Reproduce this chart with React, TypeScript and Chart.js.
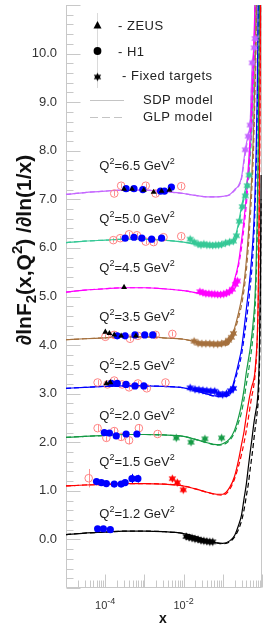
import React, { useEffect, useRef } from "react";
import { Chart, registerables } from "chart.js";

Chart.register(...registerables);

const FONT = '"Liberation Sans", Arial, Helvetica, sans-serif';

// ---------- model curves (x grid shared by all bins) ----------
const CURVE_X = [1e-5, 3e-5, 1e-4, 3e-4, 1e-3, 3e-3, 1e-2, 2e-2, 4e-2, 7e-2, 0.1, 0.15, 0.2, 0.25, 0.3, 0.35, 0.4, 0.45, 0.5, 0.55, 0.6, 0.65, 0.7, 0.75, 0.8, 0.85, 0.9, 0.95];

const SDP_12 = [0.10, 0.13, 0.15, 0.17, 0.17, 0.16, 0.12, 0.06, -0.02, -0.07, -0.08, -0.03, 0.08, 0.28, 0.50, 0.85, 1.15, 1.50, 1.80, 2.05, 2.30, 2.50, 2.65, 2.80, 3.10, 3.70, 5.00, 7.50];
const GLP_12 = [0.10, 0.13, 0.15, 0.17, 0.17, 0.16, 0.12, 0.06, -0.02, -0.07, -0.09, -0.05, 0.05, 0.20, 0.38, 0.62, 0.90, 1.15, 1.45, 1.70, 1.95, 2.20, 2.40, 2.60, 2.85, 3.40, 4.50, 7.00];
const SDP_15 = [1.10, 1.12, 1.13, 1.15, 1.15, 1.14, 1.10, 1.04, 0.97, 0.93, 0.93, 1.07, 1.30, 1.62, 1.95, 2.23, 2.55, 2.80, 3.00, 3.15, 3.25, 3.40, 3.70, 4.10, 5.00, 7.00, 10.0, 14.0];
const GLP_15 = [1.10, 1.12, 1.13, 1.15, 1.15, 1.14, 1.10, 1.04, 0.97, 0.92, 0.91, 1.03, 1.25, 1.50, 1.75, 2.00, 2.25, 2.50, 2.75, 2.95, 3.10, 3.30, 3.60, 4.00, 4.80, 6.50, 9.50, 13.0];
const SDP_20 = [2.10, 2.12, 2.14, 2.16, 2.16, 2.15, 2.12, 2.06, 1.99, 1.95, 1.97, 2.07, 2.25, 2.50, 2.78, 3.10, 3.45, 3.70, 3.93, 4.20, 4.50, 4.85, 5.50, 6.50, 8.00, 10.5, 14.0, 18.0];
const GLP_20 = [2.10, 2.12, 2.14, 2.16, 2.16, 2.15, 2.12, 2.06, 1.99, 1.94, 1.95, 2.04, 2.20, 2.40, 2.62, 2.90, 3.20, 3.45, 3.70, 3.95, 4.25, 4.60, 5.20, 6.10, 7.50, 10.0, 13.5, 17.0];
const SDP_25 = [3.11, 3.13, 3.15, 3.16, 3.16, 3.15, 3.12, 3.06, 2.99, 2.95, 2.96, 3.00, 3.30, 3.62, 3.92, 4.35, 4.75, 5.10, 5.45, 5.85, 6.30, 6.90, 7.80, 9.00, 11.0, 14.0, 17.0, 20.0];
const GLP_25 = [3.11, 3.13, 3.15, 3.16, 3.16, 3.15, 3.12, 3.06, 2.99, 2.94, 2.94, 2.98, 3.25, 3.52, 3.80, 4.15, 4.50, 4.85, 5.20, 5.55, 6.00, 6.60, 7.40, 8.60, 10.5, 13.5, 16.5, 19.5];
const SDP_35 = [4.11, 4.13, 4.15, 4.17, 4.17, 4.15, 4.12, 4.07, 4.02, 4.00, 4.01, 4.06, 4.35, 4.65, 4.95, 5.30, 5.75, 6.30, 6.90, 7.50, 8.30, 9.30, 10.5, 12.0, 14.0, 16.0, 18.0, 20.0];
const GLP_35 = [4.11, 4.13, 4.15, 4.17, 4.17, 4.15, 4.12, 4.07, 4.02, 3.99, 3.99, 4.04, 4.30, 4.55, 4.82, 5.15, 5.55, 6.05, 6.60, 7.20, 7.90, 8.90, 10.0, 11.5, 13.5, 15.5, 17.5, 19.5];
const SDP_45 = [5.09, 5.13, 5.16, 5.18, 5.18, 5.16, 5.12, 5.08, 5.04, 5.03, 5.04, 5.10, 5.35, 5.68, 6.15, 6.60, 7.10, 7.70, 8.30, 9.00, 9.80, 10.8, 12.0, 13.5, 15.0, 17.0, 19.0, 21.0];
const GLP_45 = [5.09, 5.13, 5.16, 5.18, 5.18, 5.16, 5.12, 5.08, 5.04, 5.03, 5.03, 5.08, 5.32, 5.62, 6.00, 6.45, 6.90, 7.45, 8.05, 8.70, 9.50, 10.5, 11.7, 13.0, 14.5, 16.5, 18.5, 20.5];
const SDP_50 = [6.11, 6.14, 6.16, 6.18, 6.18, 6.16, 6.12, 6.08, 6.05, 6.06, 6.08, 6.10, 6.18, 6.50, 6.85, 7.10, 7.30, 7.55, 8.00, 8.60, 9.40, 10.6, 12.0, 13.5, 15.0, 17.0, 19.0, 21.0];
const GLP_50 = [6.11, 6.14, 6.16, 6.18, 6.18, 6.16, 6.12, 6.08, 6.05, 6.05, 6.07, 6.09, 6.16, 6.45, 6.78, 7.03, 7.22, 7.45, 7.85, 8.40, 9.20, 10.3, 11.7, 13.0, 14.5, 16.5, 18.5, 20.5];
const SDP_65 = [7.10, 7.14, 7.17, 7.19, 7.19, 7.16, 7.12, 7.08, 7.05, 7.05, 7.06, 7.10, 7.20, 7.28, 7.45, 7.85, 8.15, 8.35, 8.60, 9.60, 10.0, 10.25, 10.7, 11.3, 12.5, 14.0, 16.0, 18.0];
const GLP_65 = [7.10, 7.14, 7.17, 7.19, 7.19, 7.16, 7.12, 7.08, 7.05, 7.05, 7.06, 7.09, 7.18, 7.26, 7.42, 7.78, 8.08, 8.30, 8.55, 9.45, 9.90, 10.15, 10.6, 11.2, 12.3, 13.8, 15.8, 17.8];

// ---------- measurements [x, value, error] ----------
const ZEUS_25 = [[1.07e-4, 3.21], [1.35e-4, 3.23]];
const ZEUS_35 = [[1.01e-4, 4.27], [1.28e-4, 4.24], [1.70e-4, 4.21], [2.55e-4, 4.19], [6.08e-4, 4.19]];
const ZEUS_45 = [[3.03e-4, 5.19]];
const ZEUS_65 = [[3.03e-4, 7.21], [4.82e-4, 7.21], [9.66e-4, 7.19], [1.72e-3, 7.15], [2.74e-3, 7.17], [4.35e-3, 7.19]];

const H1_12 = [[6.4e-5, 0.22], [9.0e-5, 0.22], [1.35e-4, 0.20]];
const H1_15 = [[6.0e-5, 1.19, 0.03], [8.0e-5, 1.17, 0.03], [1.07e-4, 1.15, 0.03], [1.70e-4, 1.14, 0.03], [2.55e-4, 1.14, 0.04], [3.22e-4, 1.17, 0.06], [4.82e-4, 1.25, 0.1], [6.82e-4, 1.25, 0.08]];
const H1_20 = [[9.5e-5, 2.20], [1.28e-4, 2.19], [1.91e-4, 2.13], [3.41e-4, 2.17], [6.44e-4, 2.17]];
const H1_25 = [[1.43e-4, 3.21], [2.03e-4, 3.21], [3.41e-4, 3.19], [5.74e-4, 3.16], [9.66e-4, 3.16]];
const H1_35 = [[2.03e-4, 4.19], [3.22e-4, 4.19], [5.74e-4, 4.21], [1.02e-3, 4.21], [1.63e-3, 4.21]];
const H1_50 = [[3.22e-4, 6.20], [5.42e-4, 6.22], [8.6e-4, 6.20], [1.53e-3, 6.18], [2.74e-3, 6.20]];
const H1_65 = [[3.41e-4, 7.22], [5.42e-4, 7.22], [9.1e-4, 7.20], [2.58e-3, 7.17], [3.26e-3, 7.17], [4.88e-3, 7.25]];

const OPEN_15 = [[3.79e-5, 1.26, 0.19]];
const OPEN_20 = [[6.4e-5, 2.29, 0.07], [1.07e-4, 2.09, 0.07], [1.70e-4, 2.23, 0.07], [2.55e-4, 2.11, 0.07], [4.06e-4, 2.04, 0.08], [7.23e-4, 2.29, 0.07], [2.17e-3, 2.17, 0.05]];
const OPEN_25 = [[6.4e-5, 3.23, 0.05], [1.14e-4, 3.19, 0.05], [1.70e-4, 3.27, 0.05], [2.70e-4, 3.19, 0.05], [4.06e-4, 3.13, 0.05], [6.82e-4, 3.21, 0.05], [1.15e-3, 3.11, 0.05], [3.45e-3, 3.23, 0.05]];
const OPEN_35 = [[1.01e-4, 4.17, 0.05], [1.70e-4, 4.21, 0.05], [4.30e-4, 4.13, 0.05], [6.82e-4, 4.19, 0.05], [1.93e-3, 4.21, 0.05], [5.17e-3, 4.23, 0.05]];
const OPEN_50 = [[1.61e-4, 6.16, 0.05], [2.41e-4, 6.20, 0.05], [4.06e-4, 6.28, 0.05], [6.44e-4, 6.26, 0.05], [1.08e-3, 6.13, 0.05], [1.72e-3, 6.12, 0.05], [3.07e-3, 6.22, 0.05], [8.7e-3, 6.24, 0.05]];
const OPEN_65 = [[1.70e-4, 7.12, 0.05], [2.55e-4, 7.28, 0.05], [1.08e-3, 7.28, 0.05], [1.93e-3, 7.12, 0.05], [8.7e-3, 7.27, 0.05]];

const FT_12 = [[1.16e-2, 0.06], [1.38e-2, 0.04], [1.64e-2, 0.03], [1.95e-2, 0.01], [2.33e-2, 0.0], [2.77e-2, -0.02], [3.29e-2, -0.03], [3.92e-2, -0.04], [4.66e-2, -0.05], [5.54e-2, -0.05]];
const FT_15 = [[5.17e-3, 1.25, 0.04], [6.9e-3, 1.17, 0.04], [9.8e-3, 1.02, 0.04]];
const FT_20 = [[6.5e-3, 2.09], [1.55e-2, 2.00], [3.49e-2, 2.07], [9.3e-2, 2.09]];
const FT_25 = [[1.47e-2, 3.12], [1.95e-2, 3.09], [2.47e-2, 3.08], [3.11e-2, 3.07], [3.92e-2, 3.06], [4.94e-2, 3.05], [6.22e-2, 3.05], [7.8e-2, 3.00], [9.9e-2, 2.98], [0.124, 3.00], [0.157, 3.06], [0.187, 3.11]];
const FT_35 = [[1.85e-2, 4.08], [2.33e-2, 4.04], [2.93e-2, 4.03], [3.70e-2, 4.03], [4.66e-2, 4.03], [5.87e-2, 4.02], [7.4e-2, 4.02], [9.3e-2, 4.03], [0.117, 4.05], [0.140, 4.10], [0.166, 4.16], [0.187, 4.24]];
const FT_45 = [[2.61e-2, 5.10], [3.11e-2, 5.08], [3.70e-2, 5.06], [4.40e-2, 5.06], [5.23e-2, 5.05], [6.22e-2, 5.05], [7.4e-2, 5.04], [8.8e-2, 5.04], [0.105, 5.05], [0.124, 5.07], [0.148, 5.10], [0.176, 5.15], [0.210, 5.25], [0.236, 5.32]];
const FT_50 = [[1.47e-2, 6.18], [1.85e-2, 6.12], [2.33e-2, 6.08], [2.77e-2, 6.06], [3.29e-2, 6.08], [3.92e-2, 6.06], [4.66e-2, 6.06], [5.54e-2, 6.05], [6.59e-2, 6.06], [7.8e-2, 6.06], [9.3e-2, 6.07], [0.117, 6.10], [0.148, 6.12], [0.187, 6.14], [0.222, 6.25], [0.264, 6.55], [0.314, 6.85], [0.374, 7.07], [0.420, 7.28], [0.471, 7.50]];
const FT_65 = [[0.374, 8.02], [0.445, 8.30], [0.499, 8.53], [0.561, 9.81], [0.630, 10.12], [0.667, 10.31]];

// ---------- bins ----------
const Q2_VALUES = ["1.2", "1.5", "2.0", "2.5", "3.5", "4.5", "5.0", "6.5"];
const BIN_COLORS = ["#000000", "#ff0000", "#149a44", "#0000ff", "#a5703d", "#ff00ff", "#35c896", "#c466ff"];
const SDP = [SDP_12, SDP_15, SDP_20, SDP_25, SDP_35, SDP_45, SDP_50, SDP_65];
const GLP = [GLP_12, GLP_15, GLP_20, GLP_25, GLP_35, GLP_45, GLP_50, GLP_65];
const ZEUS = [[], [], [], ZEUS_25, ZEUS_35, ZEUS_45, [], ZEUS_65];
const H1 = [H1_12, H1_15, H1_20, H1_25, H1_35, [], H1_50, H1_65];
const OPEN = [[], OPEN_15, OPEN_20, OPEN_25, OPEN_35, [], OPEN_50, OPEN_65];
const FIXED = [FT_12, FT_15, FT_20, FT_25, FT_35, FT_45, FT_50, FT_65];
const LABEL_X = 7.1e-5;
const LABEL_Y = [0.45, 1.51, 2.45, 3.48, 4.5, 5.5, 6.52, 7.61];

const X_LABEL_VALUES = [1e-4, 1e-2];
const X_LABEL_EXPONENTS = ["-4", "-2"];
const Y_MIN = -1;
const Y_MAX = 11;

type Seg = { t: string; k?: "sup" | "sub" };

function drawRich(ctx: CanvasRenderingContext2D, segs: Seg[], x: number, y: number, o: { size: number; small: number; rise: number; drop?: number; bold?: boolean }, measureOnly = false) {
  let cx = x;
  for (const s of segs) {
    const fs = s.k ? o.small : o.size;
    ctx.font = `${o.bold ? "bold " : ""}${fs}px ${FONT}`;
    const dy = s.k === "sup" ? -o.rise : s.k === "sub" ? (o.drop || 0) : 0;
    if (!measureOnly) ctx.fillText(s.t, cx, y + dy);
    cx += ctx.measureText(s.t).width;
  }
  return cx - x;
}

function makeStar(color: string, r = 4.3) {
  const size = Math.ceil(r * 2 + 2);
  const c = document.createElement("canvas");
  c.width = size;
  c.height = size;
  const g = c.getContext("2d")!;
  g.fillStyle = color;
  g.beginPath();
  const cx = size / 2, cy = size / 2;
  for (let i = 0; i < 12; i++) {
    const a = -Math.PI / 2 + (i * Math.PI) / 6;
    const rr = i % 2 === 0 ? r : r * 0.55;
    const px = cx + rr * Math.cos(a), py = cy + rr * Math.sin(a);
    if (i === 0) g.moveTo(px, py); else g.lineTo(px, py);
  }
  g.closePath();
  g.fill();
  return c;
}

const pts = (arr: number[][]) => arr.map((a) => ({ x: a[0], y: a[1] }));
const errs = (arr: number[][]) => arr.map((a) => (a.length > 2 ? a[2] : 0));

const framePlugin = {
  id: "frame",
  beforeDatasetsDraw(chart: any) {
    const ctx = chart.ctx as CanvasRenderingContext2D;
    const { left, right, top, bottom } = chart.chartArea;
    const xs = chart.scales.x, ys = chart.scales.y;
    ctx.save();
    ctx.strokeStyle = "#c8c8c8";
    ctx.lineWidth = 1;
    ctx.beginPath();
    const L = Math.round(left) + 0.5, R = Math.round(right) - 0.5, B = Math.round(bottom) - 0.5;
    ctx.moveTo(L, top); ctx.lineTo(L, B); ctx.lineTo(R, B); ctx.lineTo(R, top);
    for (let k = 0; k <= (Y_MAX - Y_MIN) * 5; k++) {
      const v = Y_MIN + k * 0.2;
      const major = k % 5 === 0;
      const py = Math.round(ys.getPixelForValue(v)) + 0.5;
      ctx.moveTo(L, py); ctx.lineTo(L + (major ? 14 : 7), py);
    }
    for (let d = -5; d <= 0; d++) {
      for (let m = 1; m <= 9; m++) {
        const v = m * Math.pow(10, d);
        if (v > 1.0001) break;
        const px = Math.round(xs.getPixelForValue(v)) + 0.5;
        ctx.moveTo(px, B); ctx.lineTo(px, B - (m === 1 ? 13 : 7));
      }
    }
    ctx.stroke();
    chart.data.datasets.forEach((ds: any) => {
      if (!ds.errs) return;
      ctx.strokeStyle = ds.errColor;
      ctx.beginPath();
      ds.data.forEach((p: any, i: number) => {
        const e = ds.errs[i];
        if (!e) return;
        const px = Math.round(xs.getPixelForValue(p.x)) + 0.5;
        ctx.moveTo(px, ys.getPixelForValue(p.y - e));
        ctx.lineTo(px, ys.getPixelForValue(p.y + e));
      });
      ctx.stroke();
    });
    ctx.restore();
  },
};

const textPlugin = {
  id: "texts",
  afterDraw(chart: any) {
    const ctx = chart.ctx as CanvasRenderingContext2D;
    const xs = chart.scales.x, ys = chart.scales.y;
    ctx.save();
    ctx.textAlign = "left";
    ctx.textBaseline = "alphabetic";
    ctx.fillStyle = "#222";

    Q2_VALUES.forEach((q, i) => {
      const px = xs.getPixelForValue(LABEL_X);
      const py = ys.getPixelForValue(LABEL_Y[i]);
      drawRich(ctx, [{ t: "Q" }, { t: "2", k: "sup" }, { t: `=${q} GeV` }, { t: "2", k: "sup" }], px, py, { size: 13, small: 9, rise: 6 });
    });

    ctx.fillStyle = "#333";
    X_LABEL_VALUES.forEach((v, i) => {
      const segs: Seg[] = [{ t: "10" }, { t: X_LABEL_EXPONENTS[i], k: "sup" }];
      const o = { size: 11, small: 9, rise: 5 };
      const w = drawRich(ctx, segs, 0, 0, o, true);
      drawRich(ctx, segs, xs.getPixelForValue(v) - w / 2, 609, o);
    });

    ctx.font = `bold 14px ${FONT}`;
    ctx.textAlign = "center";
    ctx.fillStyle = "#111";
    ctx.fillText("x", 163, 623);
    ctx.textAlign = "left";

    ctx.save();
    ctx.translate(31, 250);
    ctx.rotate(-Math.PI / 2);
    const tsegs: Seg[] = [{ t: "∂lnF" }, { t: "2", k: "sub" }, { t: "(x,Q" }, { t: "2", k: "sup" }, { t: ") /∂ln(1/x)" }];
    const to = { size: 21, small: 15, rise: 9, drop: 5, bold: true };
    const tw = drawRich(ctx, tsegs, 0, 0, to, true);
    ctx.fillStyle = "#111";
    drawRich(ctx, tsegs, -tw / 2, 0, to);
    ctx.restore();

    ctx.strokeStyle = "#dadada";
    ctx.lineWidth = 1;
    ctx.beginPath();
    ctx.moveTo(97.5, 13); ctx.lineTo(97.5, 88);
    ctx.stroke();
    ctx.fillStyle = "#000";
    ctx.beginPath();
    ctx.moveTo(97.5, 21); ctx.lineTo(101.5, 28.5); ctx.lineTo(93.5, 28.5); ctx.closePath();
    ctx.fill();
    ctx.beginPath();
    ctx.arc(97.5, 51, 3.9, 0, Math.PI * 2);
    ctx.fill();
    const st = makeStar("#000");
    ctx.drawImage(st, 97.5 - st.width / 2, 77 - st.height / 2);

    ctx.strokeStyle = "#c4c4c4";
    ctx.beginPath();
    ctx.moveTo(90, 100.5); ctx.lineTo(124, 100.5);
    ctx.stroke();
    ctx.setLineDash([8, 4]);
    ctx.beginPath();
    ctx.moveTo(90, 117.5); ctx.lineTo(124, 117.5);
    ctx.stroke();
    ctx.setLineDash([]);

    ctx.fillStyle = "#222";
    (ctx as any).letterSpacing = "0.5px";
    ctx.font = `13px ${FONT}`;
    ctx.fillText("- ZEUS", 118, 29.5);
    ctx.fillText("- H1", 118, 56);
    ctx.fillText("- Fixed targets", 122, 80);
    ctx.fillText("SDP model", 143, 104);
    ctx.fillText("GLP model", 143, 121);
    (ctx as any).letterSpacing = "0px";
    ctx.restore();
  },
};

export default function App() {
  const ref = useRef<HTMLCanvasElement | null>(null);

  useEffect(() => {
    document.body.style.margin = "0";
    const canvas = ref.current;
    if (!canvas) return;

    const datasets: any[] = [];
    Q2_VALUES.forEach((_, i) => {
      const color = BIN_COLORS[i];
      datasets.push({
        data: CURVE_X.map((x, j) => ({ x, y: SDP[i][j] })),
        showLine: true, borderColor: color, borderWidth: 1.2, pointRadius: 0,
        cubicInterpolationMode: "monotone", order: 3,
      });
      datasets.push({
        data: CURVE_X.map((x, j) => ({ x, y: GLP[i][j] })),
        showLine: true, borderColor: color, borderWidth: 1.2, borderDash: [5, 3], pointRadius: 0,
        cubicInterpolationMode: "monotone", order: 3,
      });
      if (OPEN[i].length) datasets.push({
        data: pts(OPEN[i]), errs: errs(OPEN[i]), errColor: "#ff9090",
        pointStyle: "circle", pointRadius: 3.8, backgroundColor: "rgba(0,0,0,0)", borderColor: "#ff8080", borderWidth: 1, order: 2,
      });
      if (FIXED[i].length) datasets.push({
        data: pts(FIXED[i]), errs: errs(FIXED[i]), errColor: color,
        pointStyle: makeStar(color), pointRadius: 4, order: 1,
      });
      if (H1[i].length) datasets.push({
        data: pts(H1[i]), errs: errs(H1[i]), errColor: "#0000ff",
        pointStyle: "circle", pointRadius: 3.6, backgroundColor: "#0000ff", borderColor: "#0000ff", borderWidth: 0, order: 1,
      });
      if (ZEUS[i].length) datasets.push({
        data: pts(ZEUS[i]),
        pointStyle: "triangle", pointRadius: 3.4, backgroundColor: "#000", borderColor: "#000", borderWidth: 0, order: 0,
      });
    });

    const chart = new Chart(canvas, {
      type: "scatter",
      data: { datasets },
      options: {
        animation: false,
        responsive: false,
        devicePixelRatio: 1,
        events: [],
        layout: { padding: { top: 1, right: 2, left: 0, bottom: 0 } },
        plugins: { legend: { display: false }, tooltip: { enabled: false } },
        scales: {
          x: {
            type: "logarithmic", min: 1e-5, max: 1,
            grid: { display: false, drawTicks: false }, border: { display: false },
            ticks: { display: false },
            afterFit: (s: any) => { s.height = 37; s.paddingLeft = 0; s.paddingRight = 0; },
          },
          y: {
            type: "linear", min: Y_MIN, max: Y_MAX,
            grid: { display: false, drawTicks: false }, border: { display: false },
            ticks: {
              stepSize: 1, autoSkip: false, padding: 9, color: "#333",
              font: { family: FONT, size: 13 },
              callback: (v: any) => (v >= 0 && v <= 10 ? Number(v).toFixed(1) : ""),
            },
            afterFit: (s: any) => { s.width = 66; s.paddingTop = 0; s.paddingBottom = 0; },
          },
        },
      } as any,
      plugins: [framePlugin, textPlugin],
    });
    return () => chart.destroy();
  }, []);

  return (
    <div style={{ width: 267, height: 625 }}>
      <canvas ref={ref} width={267} height={625} style={{ display: "block", width: 267, height: 625 }} />
    </div>
  );
}
